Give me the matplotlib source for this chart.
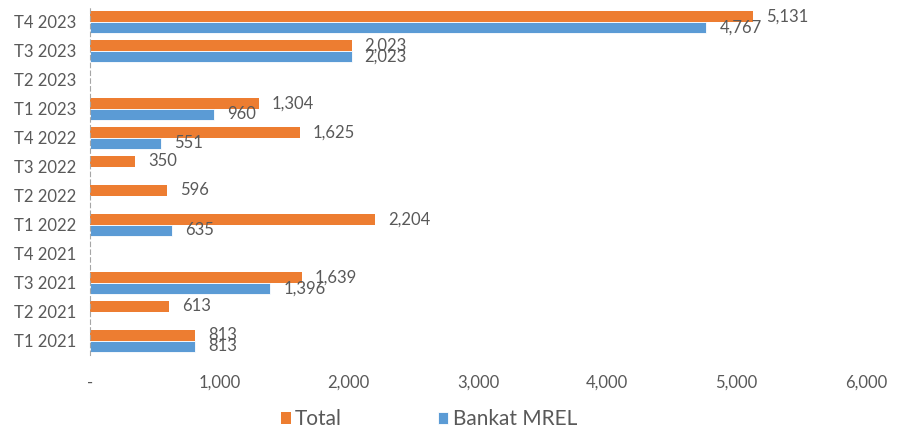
import numpy as np
import matplotlib.pyplot as plt
from matplotlib.ticker import FuncFormatter

# te dhenat, nga poshte lart
categories = ['T1 2021', 'T2 2021', 'T3 2021', 'T4 2021',
              'T1 2022', 'T2 2022', 'T3 2022', 'T4 2022',
              'T1 2023', 'T2 2023', 'T3 2023', 'T4 2023']
total = [813, 613, 1639, np.nan, 2204, 596, 350, 1625, 1304, np.nan, 2023, 5131]
mrel = [813, np.nan, 1396, np.nan, 635, np.nan, np.nan, 551, 960, np.nan, 2023, 4767]
xticks = [0, 1000, 2000, 3000, 4000, 5000, 6000]

plt.rcParams['font.family'] = ['Lato', 'DejaVu Sans']
gray = '#595959'

fig = plt.figure(figsize=(8.97, 4.33), dpi=100)
ax = fig.add_axes([0.1003, 0.179, 0.865, 0.804])

y = np.arange(len(categories))
h = 0.38
b1 = ax.barh(y + h / 2, total, height=h, color='#ED7D31', label='Total')
b2 = ax.barh(y - h / 2, mrel, height=h, color='#5B9BD5', edgecolor='white',
             linewidth=0.6, label='Bankat MREL')

# etiketat e vlerave
for vals, off in [(total, h / 2), (mrel, -h / 2)]:
    for i, v in enumerate(vals):
        if not np.isnan(v):
            ax.text(v + 100, i + off, f'{v:,.0f}', va='center', ha='left',
                    fontsize=12, color=gray)

ax.set_xlim(0, 6000)
ax.set_ylim(-0.5, len(categories) - 0.5)
ax.set_yticks(y)
ax.set_yticklabels(categories)
ax.set_xticks(xticks)
ax.xaxis.set_major_formatter(FuncFormatter(lambda v, p: '-' if v == 0 else f'{v:,.0f}'))
ax.tick_params(length=0, labelsize=12, colors=gray)
ax.tick_params(axis='x', pad=14)
ax.tick_params(axis='y', pad=10)

for s in ['top', 'right', 'bottom']:
    ax.spines[s].set_visible(False)
ax.spines['left'].set_linestyle((0, (4, 3)))
ax.spines['left'].set_color('#A6A6A6')

leg = fig.legend(handles=[b1, b2], loc='lower center', bbox_to_anchor=(0.478, -0.035),
                 ncol=2, frameon=False, fontsize=15, handlelength=0.5,
                 handleheight=0.5, handletextpad=0.2, columnspacing=4.6)
for t in leg.get_texts():
    t.set_color(gray)

fig.savefig('out.png', dpi=100)
